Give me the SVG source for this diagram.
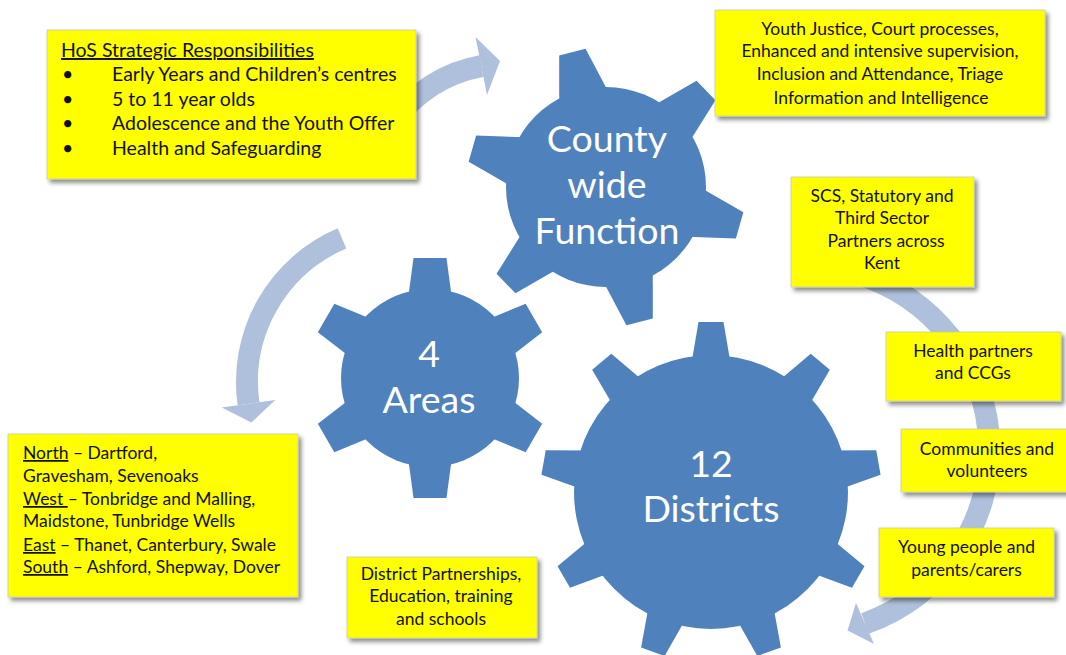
<svg xmlns="http://www.w3.org/2000/svg" xmlns:xlink="http://www.w3.org/1999/xlink" width="1066" height="655" viewBox="0 0 1066 655">
<style>
.gear{fill:#4F81BD}
.gtxt{font-family:Lato,"Liberation Sans",sans-serif;font-size:37.5px;fill:#fff;text-anchor:middle}
.box{fill:#FFFF00;stroke:#C8C8B0;stroke-width:0.8;filter:url(#sh)}
.t{font-family:Lato,"Liberation Sans",sans-serif;font-size:17.5px;fill:#111}
.tc{text-anchor:middle}
.t1{font-size:19.5px}
.u{text-decoration:underline}
.band{fill:none;stroke:#AEC0DC;stroke-width:22}
.head{fill:#AEC0DC}
</style>
<defs>
<filter id="sh" x="-10%" y="-10%" width="125%" height="130%">
<feDropShadow dx="3" dy="3.5" stdDeviation="2" flood-color="#000" flood-opacity="0.45"/>
</filter>
<polygon id="t1" points="85,-27 139,-13.6 139,13.6 85,27"/>
<polygon id="t2" points="70,-23.2 120,-16.5 120,16.5 70,23.2"/>
<polygon id="t3" points="120,-21 170,-12.5 170,12.5 120,21"/>
</defs>
<rect width="1066" height="655" fill="#fff"/>
<g id="connectors">
<g id="arrow-top">
<path class="band" d="M393.6,122 A136,136 0 0 1 481.4,66.1"/>
<polygon class="head" points="475.5,37 500,61 487,95"/>
</g>
<g id="arrow-left">
<path class="band" d="M342,238.4 A156,156 0 0 0 248.5,403.7"/>
<polygon class="head" points="221.8,407.5 251.3,422.6 275.3,400"/>
</g>
<g id="arrow-right">
<path class="band" d="M855,273 A190,185 0 0 1 865,623.5"/>
<polygon class="head" points="856,603 847.5,630.5 874,644"/>
</g>
</g>
<g id="gear-county">
<g class="gear" transform="translate(606,187)">
<circle r="100"/>
<use xlink:href="#t1" transform="rotate(-104)"/>
<use xlink:href="#t1" transform="rotate(-44)"/>
<use xlink:href="#t1" transform="rotate(16)"/>
<use xlink:href="#t1" transform="rotate(76)"/>
<use xlink:href="#t1" transform="rotate(136)"/>
<use xlink:href="#t1" transform="rotate(196)"/>
</g>
<text class="gtxt" x="607" y="152">County</text>
<text class="gtxt" x="607" y="198">wide</text>
<text class="gtxt" x="607" y="244">Function</text>
</g>
<g id="gear-areas">
<g class="gear" transform="translate(430,378)">
<circle r="89"/>
<use xlink:href="#t2" transform="rotate(-90)"/>
<use xlink:href="#t2" transform="rotate(-30)"/>
<use xlink:href="#t2" transform="rotate(30)"/>
<use xlink:href="#t2" transform="rotate(90)"/>
<use xlink:href="#t2" transform="rotate(150)"/>
<use xlink:href="#t2" transform="rotate(210)"/>
</g>
<text class="gtxt" x="429" y="367">4</text>
<text class="gtxt" x="429" y="413">Areas</text>
</g>
<g id="gear-districts">
<g class="gear" transform="translate(711,492)">
<circle r="137"/>
<use xlink:href="#t3" transform="rotate(-90)"/>
<use xlink:href="#t3" transform="rotate(-50)"/>
<use xlink:href="#t3" transform="rotate(-10)"/>
<use xlink:href="#t3" transform="rotate(30)"/>
<use xlink:href="#t3" transform="rotate(70)"/>
<use xlink:href="#t3" transform="rotate(110)"/>
<use xlink:href="#t3" transform="rotate(150)"/>
<use xlink:href="#t3" transform="rotate(190)"/>
<use xlink:href="#t3" transform="rotate(230)"/>
</g>
<text class="gtxt" x="711" y="477">12</text>
<text class="gtxt" x="711" y="522">Districts</text>
</g>
<g id="box-hos">
<rect class="box" x="47" y="30" width="369" height="149"/>
<text class="t t1" x="61" y="57"><tspan class="u">HoS Strategic Responsibilities</tspan></text>
<text class="t t1" x="62" y="81">•</text><text class="t t1" x="112" y="81">Early Years and Children’s centres</text>
<text class="t t1" x="62" y="106">•</text><text class="t t1" x="112" y="106">5 to 11 year olds</text>
<text class="t t1" x="62" y="130">•</text><text class="t t1" x="112" y="130">Adolescence and the Youth Offer</text>
<text class="t t1" x="62" y="155">•</text><text class="t t1" x="112" y="155">Health and Safeguarding</text>
</g>
<g id="box-youth">
<rect class="box" x="715" y="10" width="330" height="106"/>
<text class="t tc" x="880" y="35">Youth Justice, Court processes,</text>
<text class="t tc" x="880" y="57">Enhanced and intensive supervision,</text>
<text class="t tc" x="880" y="80">Inclusion and Attendance, Triage</text>
<text class="t tc" x="881" y="104">Information and Intelligence</text>
</g>
<g id="box-scs">
<rect class="box" x="791" y="177" width="183" height="110"/>
<text class="t tc" x="882" y="202">SCS, Statutory and</text>
<text class="t tc" x="882" y="224">Third Sector</text>
<text class="t tc" x="886" y="247">Partners across</text>
<text class="t tc" x="882" y="269">Kent</text>
</g>
<g id="box-health">
<rect class="box" x="886" y="332" width="175" height="69"/>
<text class="t tc" x="973" y="357">Health partners</text>
<text class="t tc" x="973" y="379">and CCGs</text>
</g>
<g id="box-communities">
<rect class="box" x="901" y="429" width="170" height="63"/>
<text class="t tc" x="987" y="455">Communities and</text>
<text class="t tc" x="987" y="477">volunteers</text>
</g>
<g id="box-young">
<rect class="box" x="879" y="528" width="175" height="69"/>
<text class="t tc" x="966.5" y="553">Young people and</text>
<text class="t tc" x="966.5" y="576">parents/carers</text>
</g>
<g id="box-areas">
<rect class="box" x="8" y="434" width="290" height="163"/>
<text class="t" x="23" y="459" style="white-space:pre"><tspan class="u">North</tspan> – Dartford,</text>
<text class="t" x="23" y="482">Gravesham, Sevenoaks</text>
<text class="t" x="23" y="505" style="white-space:pre"><tspan class="u">West </tspan>– Tonbridge and Malling,</text>
<text class="t" x="23" y="527">Maidstone, Tunbridge Wells</text>
<text class="t" x="23" y="551" style="white-space:pre"><tspan class="u">East</tspan> – Thanet, Canterbury, Swale</text>
<text class="t" x="23" y="573" style="white-space:pre"><tspan class="u">South</tspan> – Ashford, Shepway, Dover</text>
</g>
<g id="box-district">
<rect class="box" x="347" y="557" width="190" height="81"/>
<text class="t tc" x="441" y="580">District Partnerships,</text>
<text class="t tc" x="441" y="602">Education, training</text>
<text class="t tc" x="441" y="625">and schools</text>
</g>
</svg>
